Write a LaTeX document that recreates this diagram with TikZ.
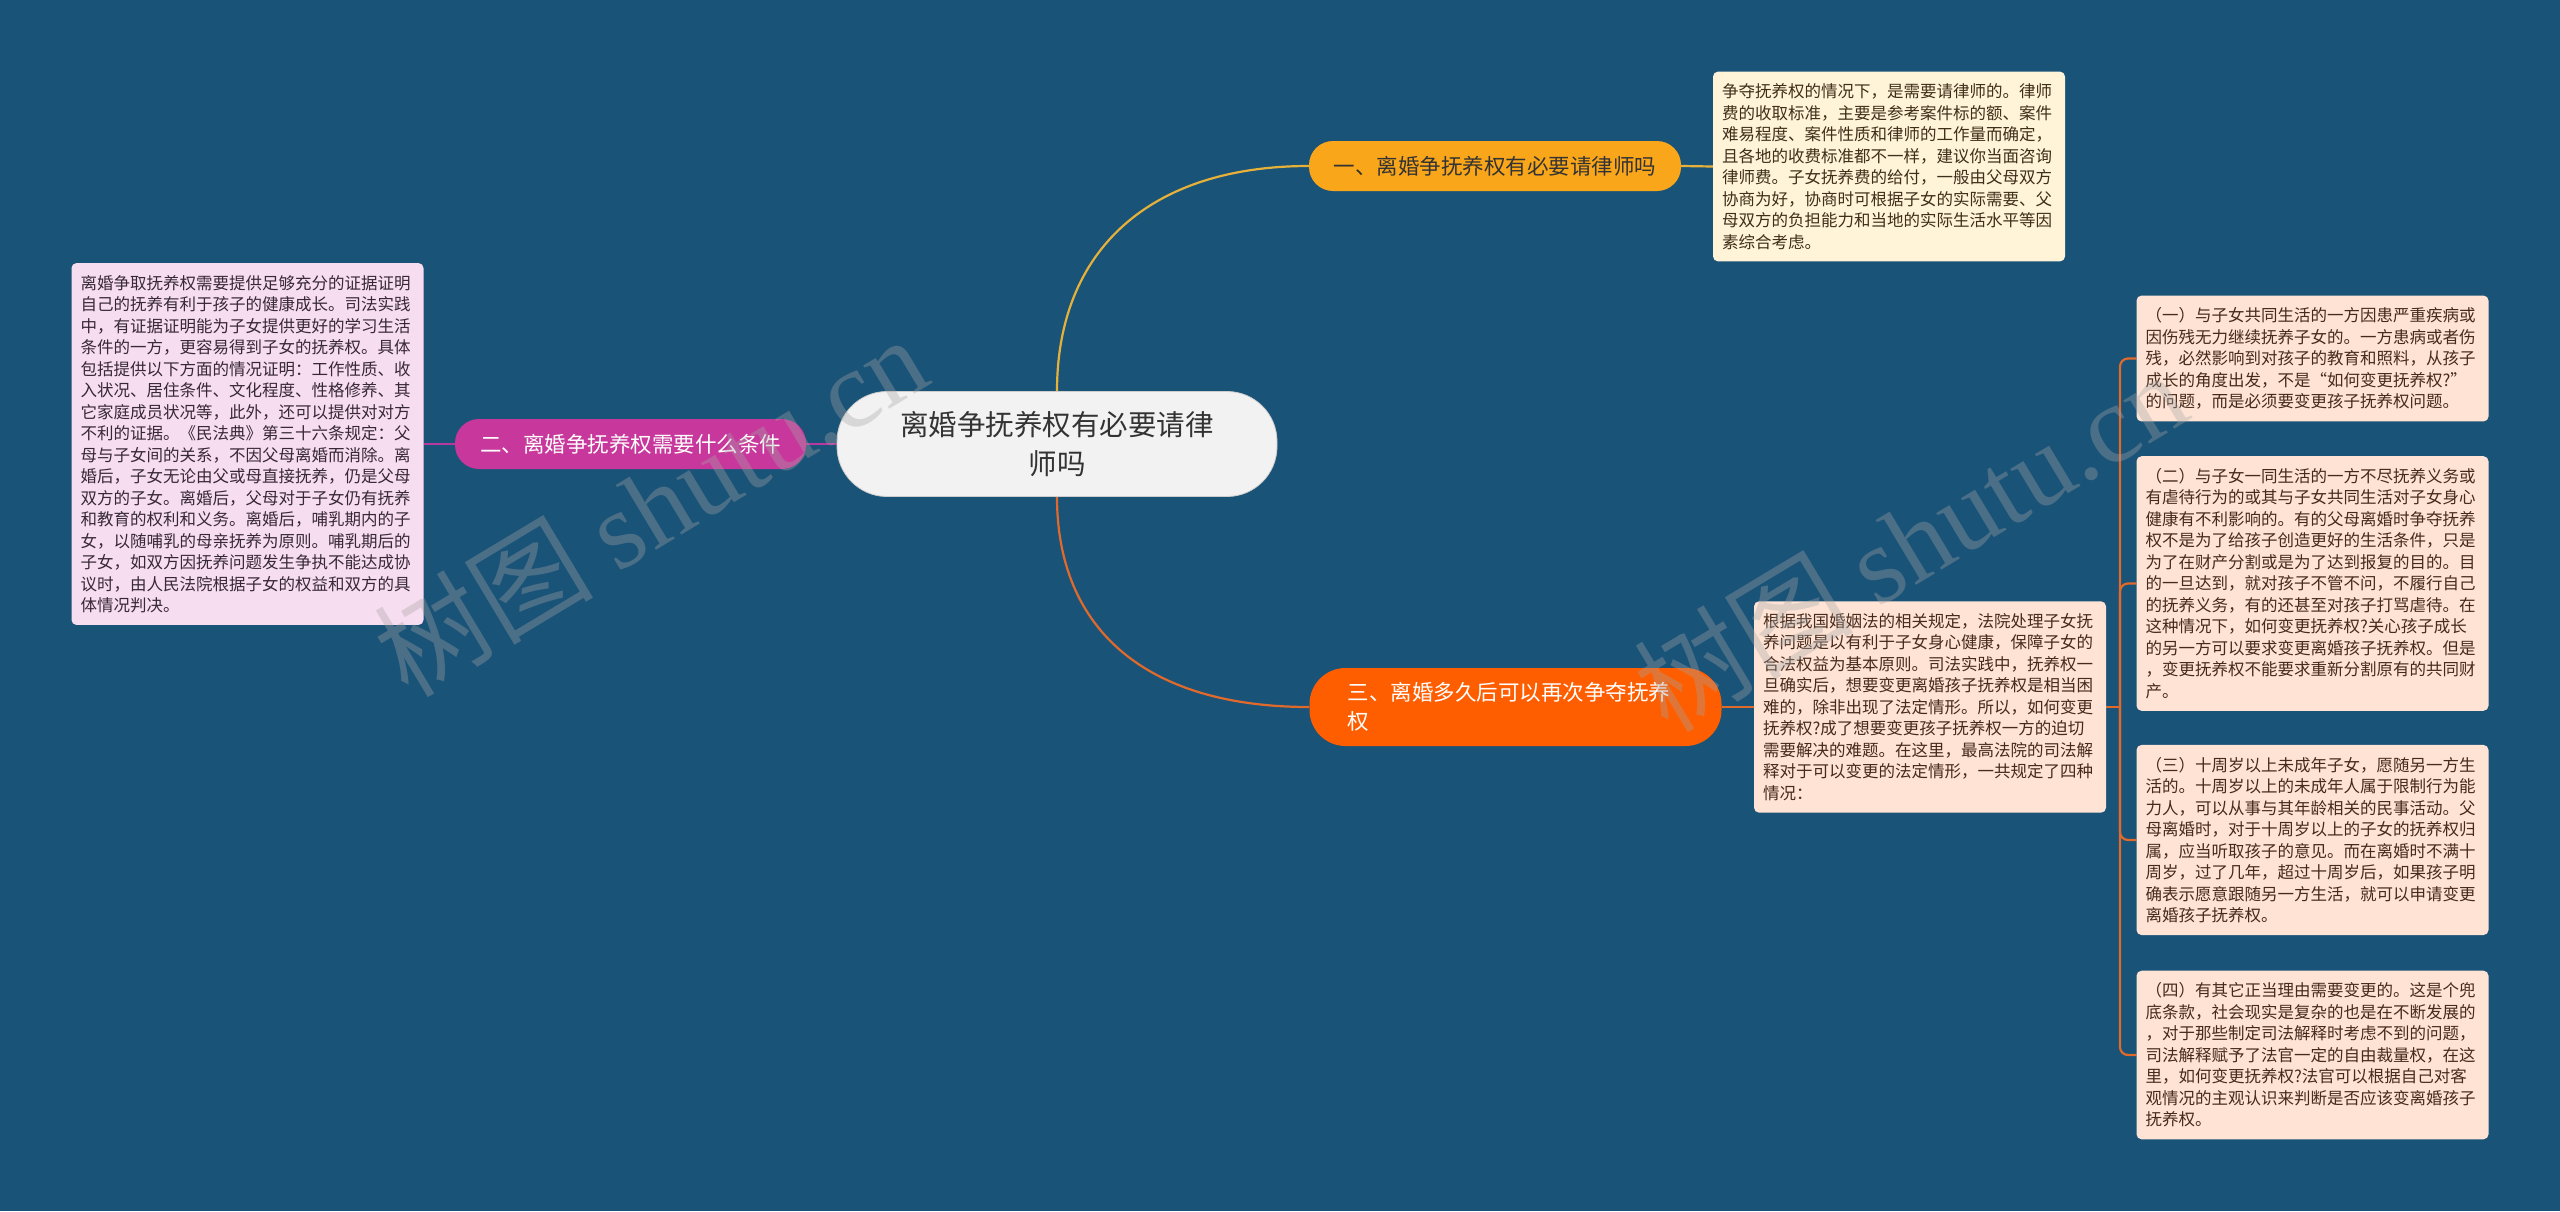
\documentclass[tikz,border=0pt]{standalone}
\usepackage{fontspec}
\setmainfont{Noto Sans CJK SC}
\newfontfamily\wmserif{Liberation Serif}
\usetikzlibrary{calc}
\definecolor{bgc}{RGB}{26,83,120}
\definecolor{rootfill}{RGB}{242,242,242}
\definecolor{rootline}{RGB}{205,205,205}
\definecolor{darktext}{RGB}{51,51,51}
\definecolor{bonefill}{RGB}{250,166,26}
\definecolor{btwofill}{RGB}{200,55,155}
\definecolor{bthreefill}{RGB}{255,94,0}
\definecolor{yelline}{RGB}{229,177,58}
\definecolor{magline}{RGB}{183,57,159}
\definecolor{orgline}{RGB}{224,105,44}
\definecolor{creamfill}{RGB}{255,244,216}
\definecolor{pinkfill}{RGB}{247,221,240}
\definecolor{peachfill}{RGB}{255,228,214}
\definecolor{creamtext}{RGB}{62,46,26}
\definecolor{pinktext}{RGB}{55,40,55}
\definecolor{peachtext}{RGB}{70,42,28}
\definecolor{wmcol}{RGB}{165,165,165}
\pgfdeclarelayer{bglayer}
\pgfsetlayers{bglayer,main}
\tikzset{
  leafbox/.style={rectangle, rounded corners=5pt, inner xsep=9pt, inner ysep=12pt,
    text width=334pt, align=left, font=\fontsize{16.5}{21.5}\selectfont},
  branchbox/.style={rectangle, inner sep=0pt, align=center,
    font=\fontsize{21.5}{29}\selectfont},
  conn/.style={line width=2.2pt},
  watermark/.style={text=wmcol, opacity=0.35, rotate=31, inner sep=0pt}
}
\begin{document}
\begin{tikzpicture}[x=1pt,y=-1pt]
\begin{pgfonlayer}{bglayer}
\fill[bgc] (0,0) rectangle (2560,1211);
\end{pgfonlayer}
\useasboundingbox (0,0) rectangle (2560,1211);

% root
\node[rectangle, rounded corners=50pt, fill=rootfill, draw=rootline, line width=0.8pt,
  minimum width=440pt, minimum height=105pt, align=center, text=darktext,
  font=\fontsize{28.5}{39}\selectfont] (root) at (1057,444) {离婚争抚养权有必要请律\\师吗};

% branches
\node[branchbox, fill=bonefill, text=darktext, minimum width=372pt, minimum height=50pt,
  rounded corners=24pt] (b1) at (1495,166) {一、离婚争抚养权有必要请律师吗};
\node[branchbox, fill=btwofill, text=white, minimum width=351pt, minimum height=50pt,
  rounded corners=24pt] (b2) at (630.5,444) {二、离婚争抚养权需要什么条件};
\node[branchbox, fill=bthreefill, text=white, minimum height=78pt, inner xsep=38pt,
  text width=336pt, align=left, rounded corners=36pt] (b3) at (1515.5,707)
  {三、离婚多久后可以再次争夺抚养\\权};

% leaves
\node[leafbox, fill=creamfill, text=creamtext] (tbox) at (1889,166.5) {争夺抚养权的情况下，是需要请律师的。律师\\
费的收取标准，主要是参考案件标的额、案件\\
难易程度、案件性质和律师的工作量而确定，\\
且各地的收费标准都不一样，建议你当面咨询\\
律师费。子女抚养费的给付，一般由父母双方\\
协商为好，协商时可根据子女的实际需要、父\\
母双方的负担能力和当地的实际生活水平等因\\
素综合考虑。};

\node[leafbox, fill=pinkfill, text=pinktext] (lbox) at (247.5,444) {离婚争取抚养权需要提供足够充分的证据证明\\
自己的抚养有利于孩子的健康成长。司法实践\\
中，有证据证明能为子女提供更好的学习生活\\
条件的一方，更容易得到子女的抚养权。具体\\
包括提供以下方面的情况证明：工作性质、收\\
入状况、居住条件、文化程度、性格修养、其\\
它家庭成员状况等，此外，还可以提供对对方\\
不利的证据。《民法典》第三十六条规定：父\\
母与子女间的关系，不因父母离婚而消除。离\\
婚后，子女无论由父或母直接抚养，仍是父母\\
双方的子女。离婚后，父母对于子女仍有抚养\\
和教育的权利和义务。离婚后，哺乳期内的子\\
女，以随哺乳的母亲抚养为原则。哺乳期后的\\
子女，如双方因抚养问题发生争执不能达成协\\
议时，由人民法院根据子女的权益和双方的具\\
体情况判决。};

\node[leafbox, fill=peachfill, text=peachtext] (mbox) at (1930,707) {根据我国婚姻法的相关规定，法院处理子女抚\\
养问题是以有利于子女身心健康，保障子女的\\
合法权益为基本原则。司法实践中，抚养权一\\
旦确实后，想要变更离婚孩子抚养权是相当困\\
难的，除非出现了法定情形。所以，如何变更\\
抚养权?成了想要变更孩子抚养权一方的迫切\\
需要解决的难题。在这里，最高法院的司法解\\
释对于可以变更的法定情形，一共规定了四种\\
情况：};

\node[leafbox, fill=peachfill, text=peachtext] (ra) at (2312.5,358.5) {（一）与子女共同生活的一方因患严重疾病或\\
因伤残无力继续抚养子女的。一方患病或者伤\\
残，必然影响到对孩子的教育和照料，从孩子\\
成长的角度出发，不是“如何变更抚养权?”\\
的问题，而是必须要变更孩子抚养权问题。};

\node[leafbox, fill=peachfill, text=peachtext] (rb) at (2312.5,583.5) {（二）与子女一同生活的一方不尽抚养义务或\\
有虐待行为的或其与子女共同生活对子女身心\\
健康有不利影响的。有的父母离婚时争夺抚养\\
权不是为了给孩子创造更好的生活条件，只是\\
为了在财产分割或是为了达到报复的目的。目\\
的一旦达到，就对孩子不管不问，不履行自己\\
的抚养义务，有的还甚至对孩子打骂虐待。在\\
这种情况下，如何变更抚养权?关心孩子成长\\
的另一方可以要求变更离婚孩子抚养权。但是\\
，变更抚养权不能要求重新分割原有的共同财\\
产。};

\node[leafbox, fill=peachfill, text=peachtext] (rc) at (2312.5,840) {（三）十周岁以上未成年子女，愿随另一方生\\
活的。十周岁以上的未成年人属于限制行为能\\
力人，可以从事与其年龄相关的民事活动。父\\
母离婚时，对于十周岁以上的子女的抚养权归\\
属，应当听取孩子的意见。而在离婚时不满十\\
周岁，过了几年，超过十周岁后，如果孩子明\\
确表示愿意跟随另一方生活，就可以申请变更\\
离婚孩子抚养权。};

\node[leafbox, fill=peachfill, text=peachtext] (rd) at (2312.5,1055) {（四）有其它正当理由需要变更的。这是个兜\\
底条款，社会现实是复杂的也是在不断发展的\\
，对于那些制定司法解释时考虑不到的问题，\\
司法解释赋予了法官一定的自由裁量权，在这\\
里，如何变更抚养权?法官可以根据自己对客\\
观情况的主观认识来判断是否应该变离婚孩子\\
抚养权。};

\coordinate (junc) at (2120,707);

\begin{pgfonlayer}{bglayer}
\draw[conn, yelline] (root.north) .. controls +(0,-141) and +(-159,0) .. (b1.west);
\draw[conn, orgline] (root.south) .. controls +(0,132) and +(-164,0) .. (b3.west);
\draw[conn, magline] (root.west) -- (b2.east);
\draw[conn, magline] (b2.west) -- (lbox.east);
\draw[conn, yelline] (b1.east) -- (tbox.west);
\draw[conn, orgline] (b3.east) -- (mbox.west);
\draw[conn, orgline] (mbox.east) -- (junc);
\draw[conn, orgline, rounded corners=8pt] (junc) |- (ra.west);
\draw[conn, orgline, rounded corners=8pt] (junc) |- (rb.west);
\draw[conn, orgline, rounded corners=8pt] (junc) |- (rc.west);
\draw[conn, orgline, rounded corners=8pt] (junc) |- (rd.west);
\end{pgfonlayer}

% watermarks
\node[watermark, font=\fontsize{110}{110}\selectfont] (wma) at (650,505) {树图 {\wmserif shutu.cn}};
\node[watermark, font=\fontsize{110}{110}\selectfont] (wmb) at (1910,540) {树图 {\wmserif shutu.cn}};
\end{tikzpicture}
\end{document}
